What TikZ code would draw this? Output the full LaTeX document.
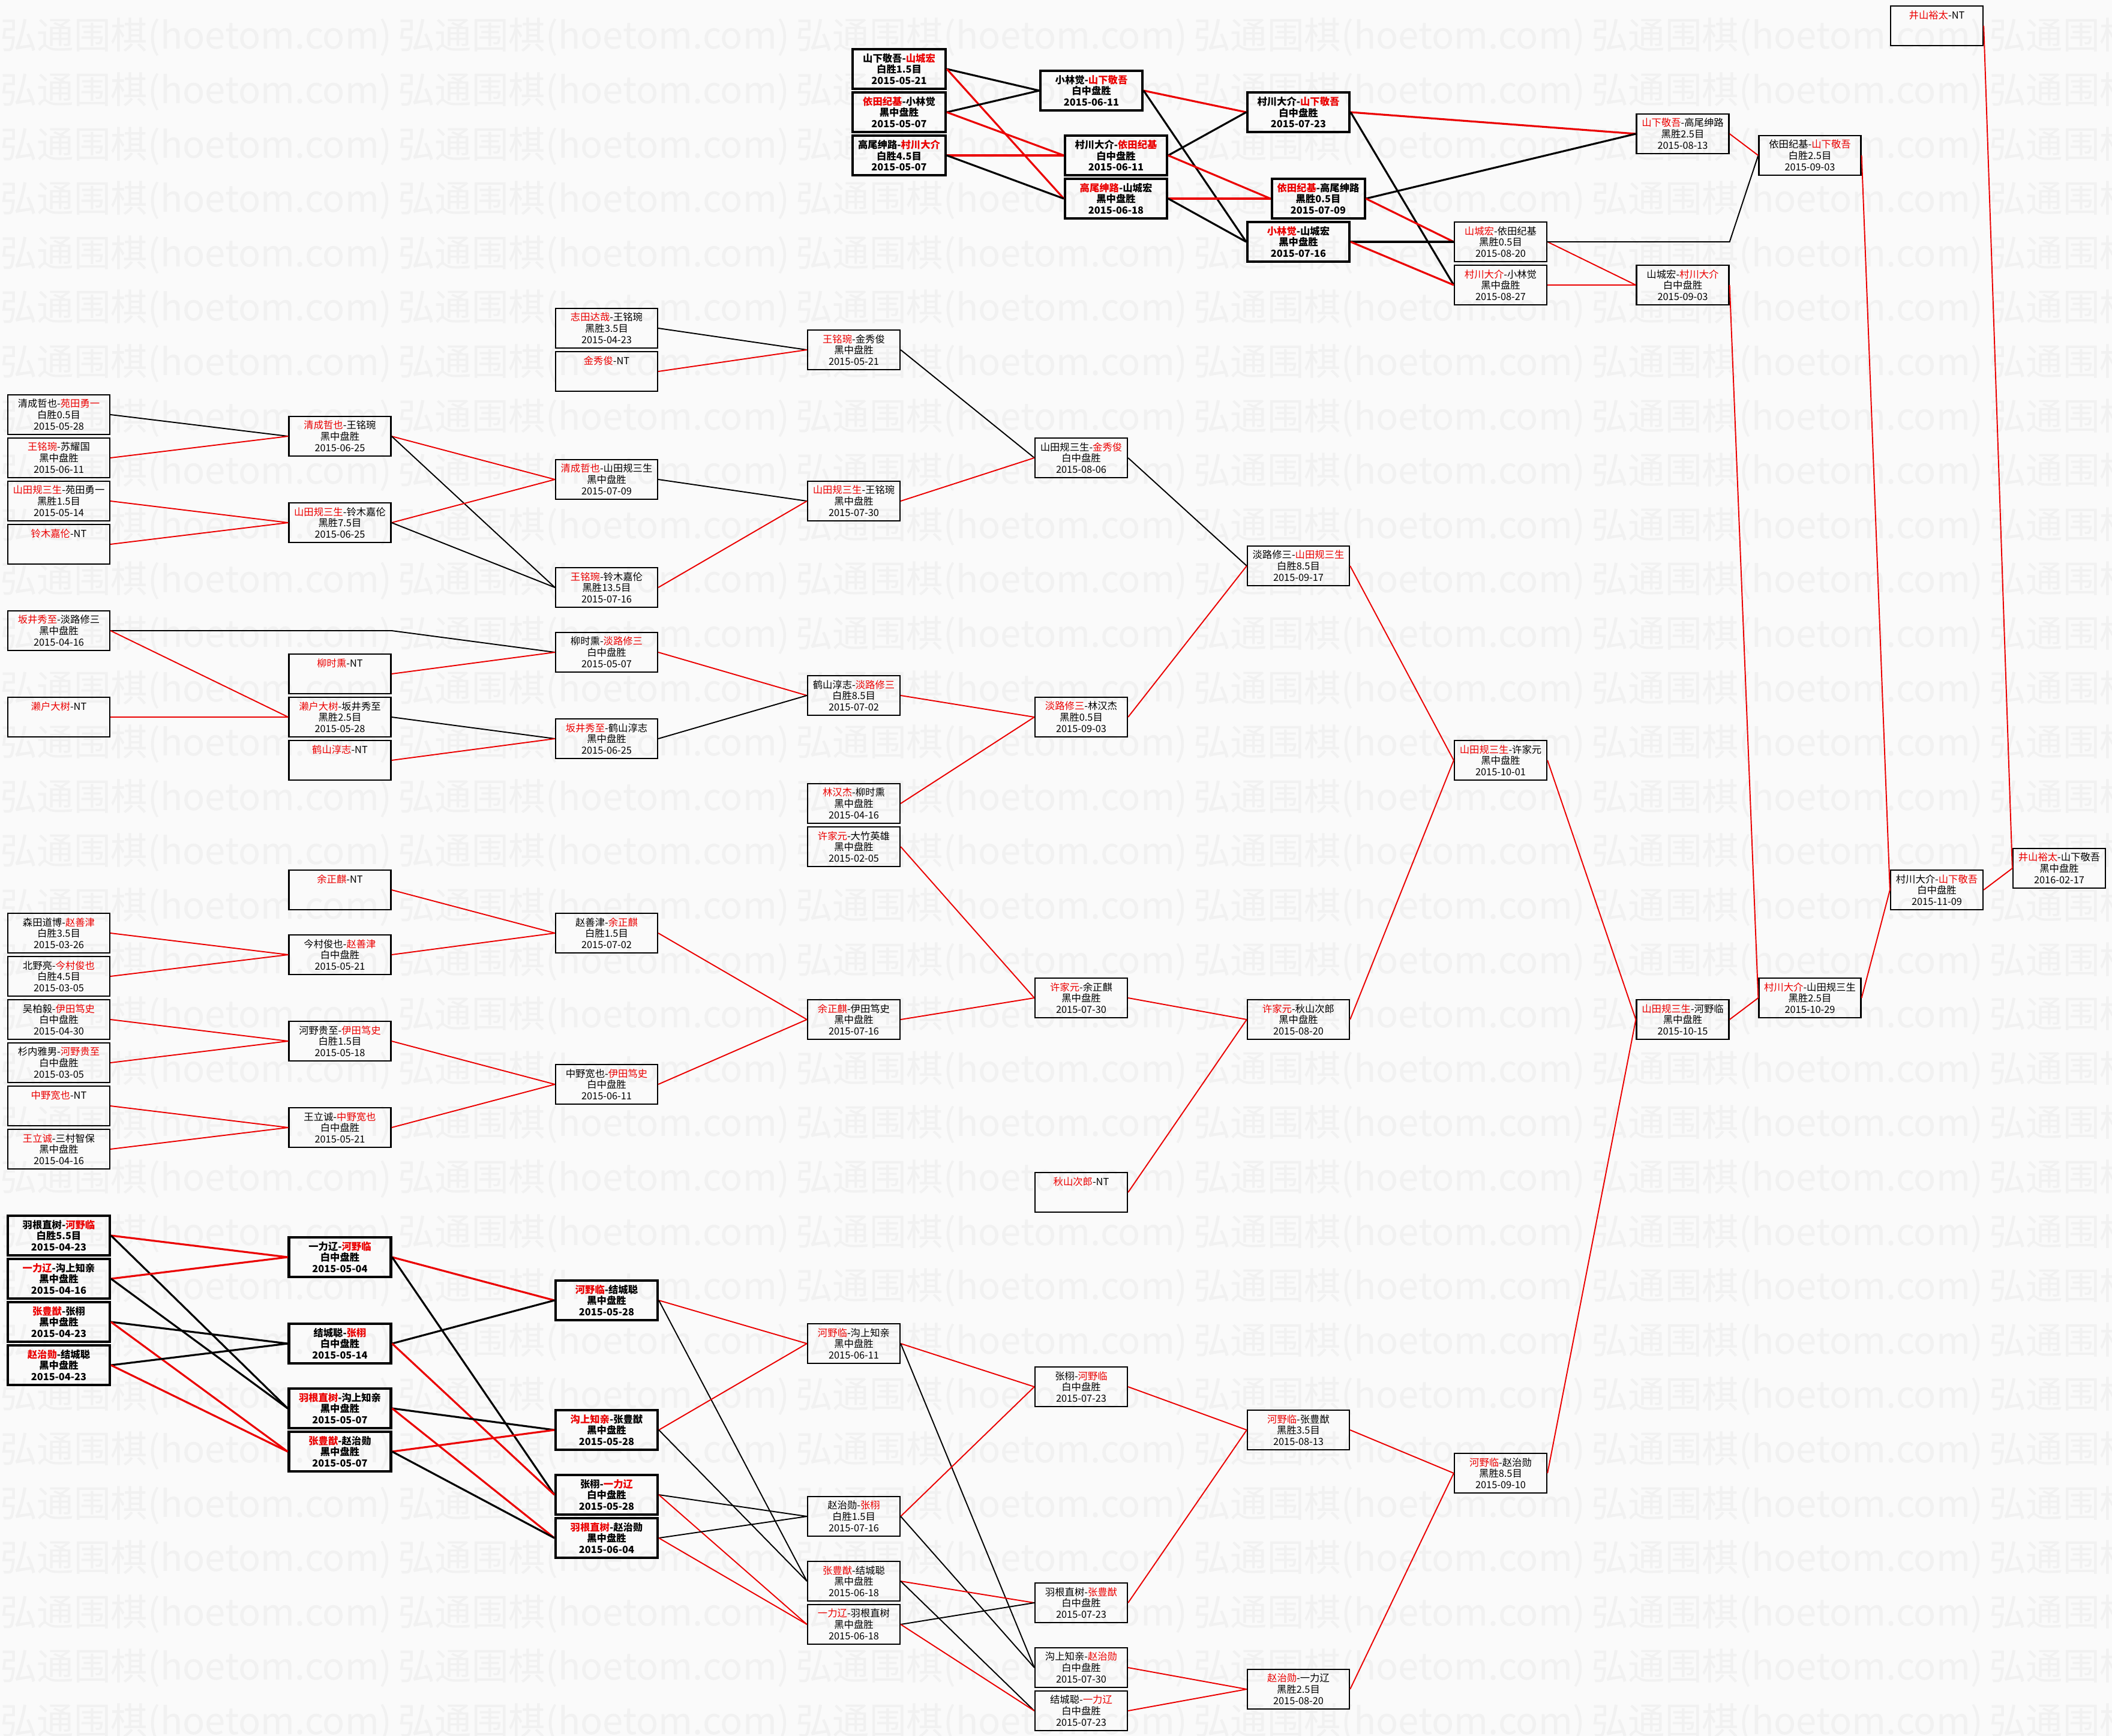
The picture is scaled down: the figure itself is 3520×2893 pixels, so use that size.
\documentclass[tikz,border=0pt]{standalone}
\usepackage{xcolor}
\usepackage{fontspec}
\usepackage{tikz}
\setmainfont{Noto Sans CJK SC}
\definecolor{winred}{RGB}{235,0,0}
\definecolor{paper}{RGB}{250,250,250}
\definecolor{markgray}{RGB}{241,241,241}
\newcommand{\winner}[1]{\textcolor{winred}{#1}}

\begin{document}
\begin{tikzpicture}[x=0.2mm, y=-0.2mm,
  box/.style={draw, line width=1.3pt, minimum width=34mm, minimum height=13.2mm, inner sep=0pt, align=center, font=\fontsize{9.3}{10.7}\selectfont},
  slim/.style={box, minimum width=30.8mm},
  heavy/.style={box, line width=2.3pt, font=\fontsize{9.3}{10.7}\selectfont\bfseries},
  heavyslim/.style={heavy, minimum width=31mm},
  win/.style={winred, line width=1.1pt},
  lose/.style={black, line width=1.1pt},
  winb/.style={winred, line width=1.8pt},
  loseb/.style={black, line width=1.8pt},
  stamp/.style={anchor=west, inner sep=0pt, text=markgray, font=\fontsize{35}{35}\selectfont}]

\useasboundingbox (0,0) rectangle (3520,2893);
\begin{scope}
\clip (0,0) rectangle (3520,2893);
\fill[paper] (0,0) rectangle (3520,2893);
\foreach \r in {0,...,31}
  \foreach \c in {0,...,5}
    \node[stamp] (wm\r-\c) at (663*\c, 62+90.6*\r) {弘通围棋(hoetom.com)};
\end{scope}

\node[heavyslim] (ta2) at (1498.5,115) {山下敬吾-\winner{山城宏}\\白胜1.5目\\2015-05-21};
\node[heavyslim] (ta4) at (1498.5,187) {\winner{依田纪基}-小林觉\\黑中盘胜\\2015-05-07};
\node[heavyslim] (ta6) at (1498.5,259) {高尾绅路-\winner{村川大介}\\白胜4.5目\\2015-05-07};
\node[heavy] (tb3) at (1819,151) {小林觉-\winner{山下敬吾}\\白中盘胜\\2015-06-11};
\node[heavy] (tb6) at (1860,259) {村川大介-\winner{依田纪基}\\白中盘胜\\2015-06-11};
\node[heavy] (tb8) at (1860,331) {\winner{高尾绅路}-山城宏\\黑中盘胜\\2015-06-18};
\node[heavy] (tc4) at (2164,187) {村川大介-\winner{山下敬吾}\\白中盘胜\\2015-07-23};
\node[heavyslim] (tc8) at (2197,331) {\winner{依田纪基}-高尾绅路\\黑胜0.5目\\2015-07-09};
\node[heavy] (tc10) at (2164,403) {\winner{小林觉}-山城宏\\黑中盘胜\\2015-07-16};

\node[slim] (r6s10) at (2501,403) {\winner{山城宏}-依田纪基\\黑胜0.5目\\2015-08-20};
\node[slim] (r6s12) at (2501,475) {\winner{村川大介}-小林觉\\黑中盘胜\\2015-08-27};
\node[slim] (r7s5) at (2804.5,223) {\winner{山下敬吾}-高尾绅路\\黑胜2.5目\\2015-08-13};
\node[slim] (r7s12) at (2804.5,475) {山城宏-\winner{村川大介}\\白中盘胜\\2015-09-03};
\node[box] (r8s6) at (3016.5,259) {依田纪基-\winner{山下敬吾}\\白胜2.5目\\2015-09-03};
\node[slim] (r9s0) at (3228,43) {\winner{井山裕太}-NT\\~\\~};
\node[slim] (r9s40) at (3228,1483) {村川大介-\winner{山下敬吾}\\白中盘胜\\2015-11-09};
\node[slim] (r10s39) at (3432,1447) {\winner{井山裕太}-山下敬吾\\黑中盘胜\\2016-02-17};
\node[box] (r8s45) at (3016.5,1663) {\winner{村川大介}-山田规三生\\黑胜2.5目\\2015-10-29};
\node[slim] (r7s46) at (2804.5,1699) {\winner{山田规三生}-河野临\\黑中盘胜\\2015-10-15};
\node[slim] (r6s34) at (2501,1267) {\winner{山田规三生}-许家元\\黑中盘胜\\2015-10-01};
\node[slim] (r6s67) at (2501,2455) {\winner{河野临}-赵治勋\\黑胜8.5目\\2015-09-10};
\node[box] (r5s25) at (2164,943) {淡路修三-\winner{山田规三生}\\白胜8.5目\\2015-09-17};
\node[box] (r5s46) at (2164,1699) {\winner{许家元}-秋山次郎\\黑中盘胜\\2015-08-20};
\node[box] (r5s65) at (2164,2383) {\winner{河野临}-张豊猷\\黑胜3.5目\\2015-08-13};
\node[box] (r5s77) at (2164,2815) {\winner{赵治勋}-一力辽\\黑胜2.5目\\2015-08-20};

\node[slim] (r4s20) at (1802,763) {山田规三生-\winner{金秀俊}\\白中盘胜\\2015-08-06};
\node[slim] (r4s32) at (1802,1195) {\winner{淡路修三}-林汉杰\\黑胜0.5目\\2015-09-03};
\node[slim] (r4s45) at (1802,1663) {\winner{许家元}-余正麒\\黑中盘胜\\2015-07-30};
\node[slim] (r4s54) at (1802,1987) {\winner{秋山次郎}-NT\\~\\~};
\node[slim] (r4s63) at (1802,2311) {张栩-\winner{河野临}\\白中盘胜\\2015-07-23};
\node[slim] (r4s73) at (1802,2671) {羽根直树-\winner{张豊猷}\\白中盘胜\\2015-07-23};
\node[slim] (r4s76) at (1802,2779) {沟上知亲-\winner{赵治勋}\\白中盘胜\\2015-07-30};
\node[slim] (r4s78) at (1802,2851) {结城聪-\winner{一力辽}\\白中盘胜\\2015-07-23};

\node[slim] (r3s15) at (1423,583) {\winner{王铭琬}-金秀俊\\黑中盘胜\\2015-05-21};
\node[slim] (r3s22) at (1423,835) {\winner{山田规三生}-王铭琬\\黑中盘胜\\2015-07-30};
\node[slim] (r3s31) at (1423,1159) {鹤山淳志-\winner{淡路修三}\\白胜8.5目\\2015-07-02};
\node[slim] (r3s36) at (1423,1339) {\winner{林汉杰}-柳时熏\\黑中盘胜\\2015-04-16};
\node[slim] (r3s38) at (1423,1411) {\winner{许家元}-大竹英雄\\黑中盘胜\\2015-02-05};
\node[slim] (r3s46) at (1423,1699) {\winner{余正麒}-伊田笃史\\黑中盘胜\\2015-07-16};
\node[slim] (r3s61) at (1423,2239) {\winner{河野临}-沟上知亲\\黑中盘胜\\2015-06-11};
\node[slim] (r3s69) at (1423,2527) {赵治勋-\winner{张栩}\\白胜1.5目\\2015-07-16};
\node[slim] (r3s72) at (1423,2635) {\winner{张豊猷}-结城聪\\黑中盘胜\\2015-06-18};
\node[slim] (r3s74) at (1423,2707) {\winner{一力辽}-羽根直树\\黑中盘胜\\2015-06-18};

\node[box] (r2s14) at (1011,547) {\winner{志田达哉}-王铭琬\\黑胜3.5目\\2015-04-23};
\node[box] (r2s16) at (1011,619) {\winner{金秀俊}-NT\\~\\~};
\node[box] (r2s21) at (1011,799) {\winner{清成哲也}-山田规三生\\黑中盘胜\\2015-07-09};
\node[box] (r2s26) at (1011,979) {\winner{王铭琬}-铃木嘉伦\\黑胜13.5目\\2015-07-16};
\node[box] (r2s29) at (1011,1087) {柳时熏-\winner{淡路修三}\\白中盘胜\\2015-05-07};
\node[box] (r2s33) at (1011,1231) {\winner{坂井秀至}-鹤山淳志\\黑中盘胜\\2015-06-25};
\node[box] (r2s42) at (1011,1555) {赵善津-\winner{余正麒}\\白胜1.5目\\2015-07-02};
\node[box] (r2s49) at (1011,1807) {中野宽也-\winner{伊田笃史}\\白中盘胜\\2015-06-11};
\node[heavy] (r2s59) at (1011,2167) {\winner{河野临}-结城聪\\黑中盘胜\\2015-05-28};
\node[heavy] (r2s65) at (1011,2383) {\winner{沟上知亲}-张豊猷\\黑中盘胜\\2015-05-28};
\node[heavy] (r2s68) at (1011,2491) {张栩-\winner{一力辽}\\白中盘胜\\2015-05-28};
\node[heavy] (r2s70) at (1011,2563) {\winner{羽根直树}-赵治勋\\黑中盘胜\\2015-06-04};

\node[box] (r1s19) at (566.5,727) {\winner{清成哲也}-王铭琬\\黑中盘胜\\2015-06-25};
\node[box] (r1s23) at (566.5,871) {\winner{山田规三生}-铃木嘉伦\\黑胜7.5目\\2015-06-25};
\node[box] (r1s30) at (566.5,1123) {\winner{柳时熏}-NT\\~\\~};
\node[box] (r1s32) at (566.5,1195) {\winner{濑户大树}-坂井秀至\\黑胜2.5目\\2015-05-28};
\node[box] (r1s34) at (566.5,1267) {\winner{鹤山淳志}-NT\\~\\~};
\node[box] (r1s40) at (566.5,1483) {\winner{余正麒}-NT\\~\\~};
\node[box] (r1s43) at (566.5,1591) {今村俊也-\winner{赵善津}\\白中盘胜\\2015-05-21};
\node[box] (r1s47) at (566.5,1735) {河野贵至-\winner{伊田笃史}\\白胜1.5目\\2015-05-18};
\node[box] (r1s51) at (566.5,1879) {王立诚-\winner{中野宽也}\\白中盘胜\\2015-05-21};
\node[heavy] (r1s57) at (566.5,2095) {一力辽-\winner{河野临}\\白中盘胜\\2015-05-04};
\node[heavy] (r1s61) at (566.5,2239) {结城聪-\winner{张栩}\\白中盘胜\\2015-05-14};
\node[heavy] (r1s64) at (566.5,2347) {\winner{羽根直树}-沟上知亲\\黑中盘胜\\2015-05-07};
\node[heavy] (r1s66) at (566.5,2419) {\winner{张豊猷}-赵治勋\\黑中盘胜\\2015-05-07};

\node[box] (r0s18) at (98,691) {清成哲也-\winner{苑田勇一}\\白胜0.5目\\2015-05-28};
\node[box] (r0s20) at (98,763) {\winner{王铭琬}-苏耀国\\黑中盘胜\\2015-06-11};
\node[box] (r0s22) at (98,835) {\winner{山田规三生}-苑田勇一\\黑胜1.5目\\2015-05-14};
\node[box] (r0s24) at (98,907) {\winner{铃木嘉伦}-NT\\~\\~};
\node[box] (r0s28) at (98,1051) {\winner{坂井秀至}-淡路修三\\黑中盘胜\\2015-04-16};
\node[box] (r0s32) at (98,1195) {\winner{濑户大树}-NT\\~\\~};
\node[box] (r0s42) at (98,1555) {森田道博-\winner{赵善津}\\白胜3.5目\\2015-03-26};
\node[box] (r0s44) at (98,1627) {北野亮-\winner{今村俊也}\\白胜4.5目\\2015-03-05};
\node[box] (r0s46) at (98,1699) {吴柏毅-\winner{伊田笃史}\\白中盘胜\\2015-04-30};
\node[box] (r0s48) at (98,1771) {杉内雅男-\winner{河野贵至}\\白中盘胜\\2015-03-05};
\node[box] (r0s50) at (98,1843) {\winner{中野宽也}-NT\\~\\~};
\node[box] (r0s52) at (98,1915) {\winner{王立诚}-三村智保\\黑中盘胜\\2015-04-16};
\node[heavy] (r0s56) at (98,2059) {羽根直树-\winner{河野临}\\白胜5.5目\\2015-04-23};
\node[heavy] (r0s58) at (98,2131) {\winner{一力辽}-沟上知亲\\黑中盘胜\\2015-04-16};
\node[heavy] (r0s60) at (98,2203) {\winner{张豊猷}-张栩\\黑中盘胜\\2015-04-23};
\node[heavy] (r0s62) at (98,2275) {\winner{赵治勋}-结城聪\\黑中盘胜\\2015-04-23};

\draw[loseb] (ta2.east) -- (tb3.west);
\draw[winb] (ta2.east) -- (tb8.west);
\draw[loseb] (ta4.east) -- (tb3.west);
\draw[winb] (ta4.east) -- (tb6.west);
\draw[winb] (ta6.east) -- (tb6.west);
\draw[loseb] (ta6.east) -- (tb8.west);
\draw[winb] (tb3.east) -- (tc4.west);
\draw[loseb] (tb3.east) -- (tc10.west);
\draw[loseb] (tb6.east) -- (tc4.west);
\draw[winb] (tb6.east) -- (tc8.west);
\draw[winb] (tb8.east) -- (tc8.west);
\draw[loseb] (tb8.east) -- (tc10.west);
\draw[winb] (tc4.east) -- (r7s5.west);
\draw[loseb] (tc4.east) -- (r6s12.west);
\draw[loseb] (tc8.east) -- (r7s5.west);
\draw[winb] (tc8.east) -- (r6s10.west);
\draw[loseb] (tc10.east) -- (r6s10.west);
\draw[winb] (tc10.east) -- (r6s12.west);
\draw[win] (r6s10.east) -- (r7s12.west);
\draw[lose] (r6s10.east) -- (r6s10.east -| r7s5.east) -- (r8s6.west);
\draw[win] (r6s12.east) -- (r7s12.west);
\draw[win] (r7s5.east) -- (r8s6.west);
\draw[win] (r8s6.east) -- (r9s40.west);
\draw[win] (r7s12.east) -- (r8s45.west);
\draw[win] (r8s45.east) -- (r9s40.west);
\draw[win] (r9s40.east) -- (r10s39.west);
\draw[win] (r9s0.east) -- (r10s39.west);

\draw[lose] (r0s18.east) -- (r1s19.west);
\draw[win] (r0s20.east) -- (r1s19.west);
\draw[win] (r0s22.east) -- (r1s23.west);
\draw[win] (r0s24.east) -- (r1s23.west);
\draw[win] (r1s19.east) -- (r2s21.west);
\draw[lose] (r1s19.east) -- (r2s26.west);
\draw[win] (r1s23.east) -- (r2s21.west);
\draw[lose] (r1s23.east) -- (r2s26.west);
\draw[lose] (r2s14.east) -- (r3s15.west);
\draw[win] (r2s16.east) -- (r3s15.west);
\draw[lose] (r2s21.east) -- (r3s22.west);
\draw[win] (r2s26.east) -- (r3s22.west);
\draw[lose] (r3s15.east) -- (r4s20.west);
\draw[win] (r3s22.east) -- (r4s20.west);
\draw[lose] (r4s20.east) -- (r5s25.west);
\draw[win] (r4s32.east) -- (r5s25.west);
\draw[win] (r5s25.east) -- (r6s34.west);

\draw[lose] (r0s28.east) -- (r0s28.east -| r1s30.east) -- (r2s29.west);
\draw[win] (r0s28.east) -- (r1s32.west);
\draw[win] (r0s32.east) -- (r1s32.west);
\draw[win] (r1s30.east) -- (r2s29.west);
\draw[lose] (r1s32.east) -- (r2s33.west);
\draw[win] (r1s34.east) -- (r2s33.west);
\draw[win] (r2s29.east) -- (r3s31.west);
\draw[lose] (r2s33.east) -- (r3s31.west);
\draw[win] (r3s31.east) -- (r4s32.west);
\draw[win] (r3s36.east) -- (r4s32.west);
\draw[win] (r3s38.east) -- (r4s45.west);
\draw[win] (r3s46.east) -- (r4s45.west);
\draw[win] (r4s45.east) -- (r5s46.west);
\draw[win] (r4s54.east) -- (r5s46.west);
\draw[win] (r5s46.east) -- (r6s34.west);
\draw[win] (r6s34.east) -- (r7s46.west);
\draw[win] (r7s46.east) -- (r8s45.west);

\draw[win] (r0s42.east) -- (r1s43.west);
\draw[win] (r0s44.east) -- (r1s43.west);
\draw[win] (r1s40.east) -- (r2s42.west);
\draw[win] (r1s43.east) -- (r2s42.west);
\draw[win] (r0s46.east) -- (r1s47.west);
\draw[win] (r0s48.east) -- (r1s47.west);
\draw[win] (r0s50.east) -- (r1s51.west);
\draw[win] (r0s52.east) -- (r1s51.west);
\draw[win] (r1s47.east) -- (r2s49.west);
\draw[win] (r1s51.east) -- (r2s49.west);
\draw[win] (r2s42.east) -- (r3s46.west);
\draw[win] (r2s49.east) -- (r3s46.west);

\draw[winb] (r0s56.east) -- (r1s57.west);
\draw[loseb] (r0s56.east) -- (r1s64.west);
\draw[winb] (r0s58.east) -- (r1s57.west);
\draw[loseb] (r0s58.east) -- (r1s64.west);
\draw[loseb] (r0s60.east) -- (r1s61.west);
\draw[winb] (r0s60.east) -- (r1s66.west);
\draw[loseb] (r0s62.east) -- (r1s61.west);
\draw[winb] (r0s62.east) -- (r1s66.west);
\draw[winb] (r1s57.east) -- (r2s59.west);
\draw[loseb] (r1s57.east) -- (r2s68.west);
\draw[loseb] (r1s61.east) -- (r2s59.west);
\draw[winb] (r1s61.east) -- (r2s68.west);
\draw[loseb] (r1s64.east) -- (r2s65.west);
\draw[winb] (r1s64.east) -- (r2s70.west);
\draw[winb] (r1s66.east) -- (r2s65.west);
\draw[loseb] (r1s66.east) -- (r2s70.west);

\draw[win] (r2s59.east) -- (r3s61.west);
\draw[lose] (r2s59.east) -- (r3s72.west);
\draw[win] (r2s65.east) -- (r3s61.west);
\draw[lose] (r2s65.east) -- (r3s72.west);
\draw[lose] (r2s68.east) -- (r3s69.west);
\draw[win] (r2s68.east) -- (r3s74.west);
\draw[lose] (r2s70.east) -- (r3s69.west);
\draw[win] (r2s70.east) -- (r3s74.west);
\draw[win] (r3s61.east) -- (r4s63.west);
\draw[lose] (r3s61.east) -- (r4s76.west);
\draw[win] (r3s69.east) -- (r4s63.west);
\draw[lose] (r3s69.east) -- (r4s76.west);
\draw[win] (r3s72.east) -- (r4s73.west);
\draw[lose] (r3s72.east) -- (r4s78.west);
\draw[lose] (r3s74.east) -- (r4s73.west);
\draw[win] (r3s74.east) -- (r4s78.west);
\draw[win] (r4s63.east) -- (r5s65.west);
\draw[win] (r4s73.east) -- (r5s65.west);
\draw[win] (r4s76.east) -- (r5s77.west);
\draw[win] (r4s78.east) -- (r5s77.west);
\draw[win] (r5s65.east) -- (r6s67.west);
\draw[win] (r5s77.east) -- (r6s67.west);
\draw[win] (r6s67.east) -- (r7s46.west);
\end{tikzpicture}
\end{document}
